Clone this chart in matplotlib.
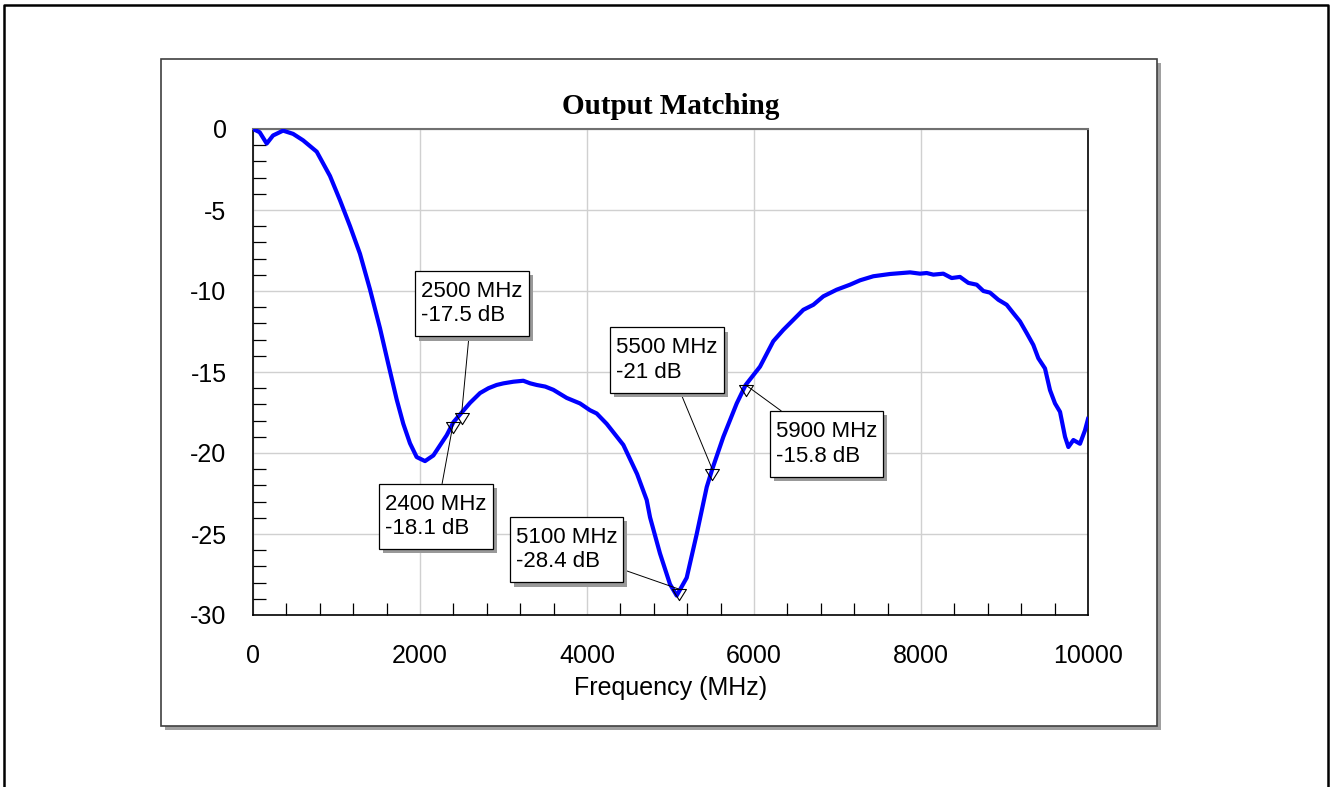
import matplotlib
matplotlib.use("Agg")
import matplotlib.pyplot as plt
import matplotlib.patheffects as pe
from matplotlib.lines import Line2D
from matplotlib.patches import Rectangle
from matplotlib.path import Path
from matplotlib.ticker import MultipleLocator

plt.rcParams["axes.unicode_minus"] = False

# trace
freq_mhz = [0, 80, 164, 240, 360, 480, 600, 763, 922, 1042, 1162, 1281, 1401, 1521, 1620,
            1721, 1800, 1880, 1960, 2060, 2160, 2320, 2400, 2500, 2600, 2719, 2820, 2918,
            3000, 3118, 3237, 3320, 3397, 3500, 3597, 3757, 3916, 4036, 4116, 4236, 4435,
            4600, 4715, 4755, 4874, 4994, 5074, 5194, 5314, 5434, 5500, 5633, 5793, 5900,
            6072, 6231, 6351, 6471, 6591, 6711, 6830, 6990, 7150, 7270, 7429, 7629, 7869,
            7988, 8068, 8148, 8267, 8367, 8467, 8567, 8667, 8747, 8826, 8926, 9026, 9106,
            9186, 9266, 9345, 9405, 9485, 9545, 9605, 9665, 9725, 9765, 9825, 9904, 9964,
            10000]
s22_db = [0.0, -0.2, -0.9, -0.4, -0.1, -0.3, -0.7, -1.4, -2.9, -4.4, -6.0, -7.7, -9.9, -12.3,
          -14.5, -16.7, -18.2, -19.4, -20.25, -20.5, -20.15, -18.9, -18.1, -17.5, -16.9, -16.3,
          -16.0, -15.8, -15.7, -15.6, -15.54, -15.7, -15.8, -15.9, -16.1, -16.6, -16.94, -17.36,
          -17.56, -18.2, -19.5, -21.3, -22.9, -23.97, -26.2, -28.1, -28.8, -27.7, -25.0, -22.1,
          -21.0, -19.0, -16.94, -15.8, -14.67, -13.1, -12.4, -11.78, -11.16, -10.85, -10.33,
          -9.92, -9.61, -9.34, -9.09, -8.95, -8.85, -8.93, -8.89, -8.99, -8.93, -9.2, -9.13,
          -9.5, -9.61, -10.0, -10.1, -10.54, -10.85, -11.37, -11.88, -12.6, -13.33, -14.15,
          -14.78, -16.12, -16.94, -17.46, -19.0, -19.63, -19.2, -19.43, -18.6, -17.9]

marker_freq = [2400, 2500, 5100, 5500, 5900]
marker_db = [-18.1, -17.5, -28.4, -21, -15.8]
# where the label boxes sit (data coords, box centre)
label_x = [2192, 2623, 3754, 4958, 6868]
label_y = [-23.93, -10.79, -25.98, -14.26, -19.44]

W, H = 1331, 787
fig = plt.figure(figsize=(W / 100, H / 100), dpi=100)


def fig_rect(x0, y0, x1, y1, **kw):
    # pixel box (top-left origin) -> figure-fraction rectangle
    return Rectangle((x0 / W, 1 - y1 / H), (x1 - x0) / W, (y1 - y0) / H,
                     transform=fig.transFigure, **kw)


def label_box(x0, y0, width, height, mutation_size):
    # marker labels have more room above/below the text than at the sides
    px, py = 0.27 * mutation_size, 0.45 * mutation_size
    x0, x1 = x0 - px, x0 + width + px
    y0, y1 = y0 - py, y0 + height + py
    return Path([(x0, y0), (x1, y0), (x1, y1), (x0, y1), (x0, y0)],
                [Path.MOVETO, Path.LINETO, Path.LINETO, Path.LINETO, Path.CLOSEPOLY])


fig.add_artist(fig_rect(165, 63, 1161, 730, facecolor="#a0a0a0", edgecolor="none", zorder=-3))
fig.add_artist(fig_rect(161, 59, 1157, 726, facecolor="white", edgecolor="#404040",
                        linewidth=1.2, zorder=-2))
# outer frame (left, top, right)
fig.add_artist(Line2D([4 / W, 4 / W, 1328 / W, 1328 / W], [0, 1 - 5 / H, 1 - 5 / H, 0],
                      transform=fig.transFigure, color="black", linewidth=1.8))

ax = fig.add_axes([253 / W, 1 - 615 / H, 835 / W, 486 / H])
ax.plot(freq_mhz, s22_db, color="#0000ff", linewidth=3.0, solid_joinstyle="round", zorder=3)

tri = [(-1, 0), (1, 0), (0, -1.6), (-1, 0)]
ax.plot(marker_freq, marker_db, linestyle="none", marker=tri, markersize=16,
        markerfacecolor="none", markeredgecolor="black", markeredgewidth=0.8, zorder=4)

for f, db, tx, ty in zip(marker_freq, marker_db, label_x, label_y):
    ann = ax.annotate(f"{f} MHz\n{db:g} dB", xy=(f, db), xytext=(tx, ty),
                      ha="center", va="center", multialignment="left",
                      fontsize=16, family="Liberation Sans", zorder=5,
                      bbox=dict(boxstyle=label_box, facecolor="white",
                                edgecolor="black", linewidth=0.9),
                      arrowprops=dict(arrowstyle="-", color="black", linewidth=0.7,
                                      shrinkA=0, shrinkB=0),
                      annotation_clip=False)
    ann.get_bbox_patch().set_path_effects([
        pe.SimplePatchShadow(offset=(3, -3), shadow_rgbFace="#999999", alpha=1.0),
        pe.Normal()])

ax.set_xlim(0, 10000)
ax.set_ylim(-30, 0)
ax.xaxis.set_major_locator(MultipleLocator(2000))
ax.xaxis.set_minor_locator(MultipleLocator(400))
ax.yaxis.set_major_locator(MultipleLocator(5))
ax.yaxis.set_minor_locator(MultipleLocator(1))
ax.grid(which="major", color="#d0d0d0", linewidth=1.0)
ax.set_axisbelow(True)
ax.tick_params(which="both", direction="in", top=False, right=False)
ax.tick_params(which="major", length=0)
ax.tick_params(which="minor", length=9, width=0.9, color="black")
ax.tick_params(axis="y", which="major", pad=19, labelsize=18)
ax.tick_params(axis="x", which="major", pad=21, labelsize=18)
for lab in ax.get_xticklabels() + ax.get_yticklabels():
    lab.set_family("Liberation Sans")

for side in ("left", "bottom", "right"):
    ax.spines[side].set_color("black")
    ax.spines[side].set_linewidth(1.2)
ax.spines["top"].set_color("#707070")
ax.spines["top"].set_linewidth(1.5)

ax.set_xlabel("Frequency (MHz)", fontsize=18, family="Liberation Sans", labelpad=6)
ax.set_title("Output Matching", fontsize=21, family="Liberation Serif",
             fontweight="bold", pad=11)

fig.savefig("out.png", dpi=100)
